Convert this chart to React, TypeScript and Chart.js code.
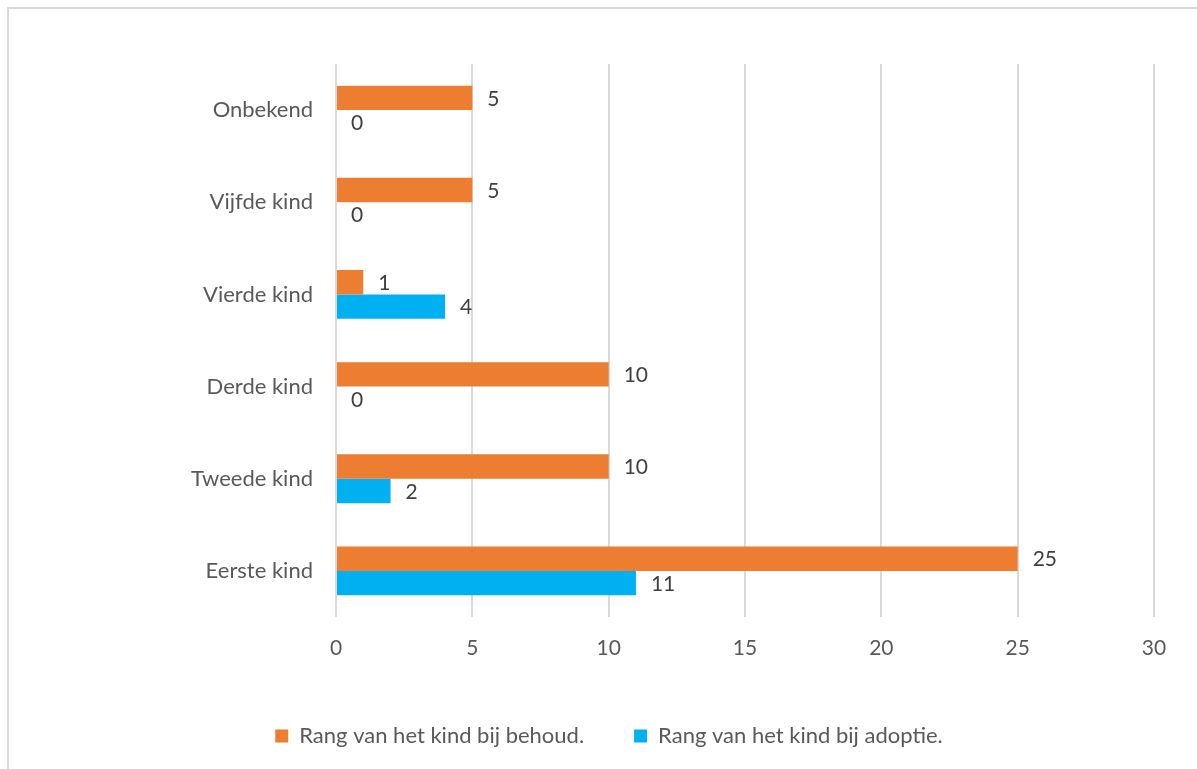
import React, { useEffect, useRef } from "react";
import { Chart, registerables } from "chart.js";

Chart.register(...registerables);

const categories = ["Onbekend", "Vijfde kind", "Vierde kind", "Derde kind", "Tweede kind", "Eerste kind"];
const behoudValues = [5, 5, 1, 10, 10, 25];
const adoptieValues = [0, 0, 4, 0, 2, 11];
const seriesNames = ["Rang van het kind bij behoud.", "Rang van het kind bij adoptie."];
const xTicks = [0, 5, 10, 15, 20, 25, 30];

const FONT = "Lato, 'Open Sans', sans-serif";

const valueLabels = {
  id: "valueLabels",
  afterDatasetsDraw(chart: any) {
    const ctx = chart.ctx;
    ctx.save();
    ctx.font = `21px ${FONT}`;
    ctx.fillStyle = "#404040";
    ctx.textAlign = "left";
    ctx.textBaseline = "middle";
    chart.data.datasets.forEach((ds: any, di: number) => {
      const meta = chart.getDatasetMeta(di);
      meta.data.forEach((el: any, i: number) => {
        ctx.fillText(String(ds.data[i]), el.x + 15, el.y + 1);
      });
    });
    ctx.restore();
  },
};

export default function App() {
  const ref = useRef<HTMLCanvasElement>(null);
  useEffect(() => {
    const chart = new Chart(ref.current!, {
      type: "bar",
      data: {
        labels: categories,
        datasets: [
          { label: seriesNames[0], data: behoudValues, backgroundColor: "#ED7D31", categoryPercentage: 0.53, barPercentage: 1 },
          { label: seriesNames[1], data: adoptieValues, backgroundColor: "#00B0F0", categoryPercentage: 0.53, barPercentage: 1 },
        ],
      },
      options: {
        indexAxis: "y",
        animation: false,
        responsive: false,
        maintainAspectRatio: false,
        layout: { padding: { top: 64, right: 43, left: 64, bottom: 12 } },
        scales: {
          x: {
            min: 0,
            max: 30,
            afterBuildTicks: (s: any) => { s.ticks = xTicks.map((v) => ({ value: v })); },
            afterFit: (s: any) => { s.height = 58; },
            grid: { color: "#d9d9d9", lineWidth: 2, drawTicks: false },
            border: { display: false },
            ticks: { color: "#595959", font: { family: FONT, size: 21 }, padding: 19 },
          },
          y: {
            afterFit: (s: any) => { s.width = 272; },
            grid: { display: false },
            border: { display: false },
            ticks: { color: "#595959", font: { family: FONT, size: 22 }, padding: 15 },
          },
        },
        plugins: {
          legend: {
            position: "bottom",
            labels: {
              boxWidth: 13,
              boxHeight: 13,
              padding: 50,
              color: "#595959",
              font: { family: FONT, size: 22 },
            },
          },
          tooltip: { enabled: false },
        },
      },
      plugins: [valueLabels],
    });
    return () => chart.destroy();
  }, []);
  return (
    <div style={{ position: "fixed", left: 0, top: 0, width: 1197, height: 769, overflow: "hidden", background: "#fff" }}>
      <div style={{ position: "absolute", left: 7, top: 7, width: 1200, height: 800, border: "2px solid #d9d9d9", boxSizing: "border-box" }} />
      <canvas ref={ref} width={1197} height={769} style={{ position: "absolute", left: 0, top: 0, width: 1197, height: 769 }} />
    </div>
  );
}
